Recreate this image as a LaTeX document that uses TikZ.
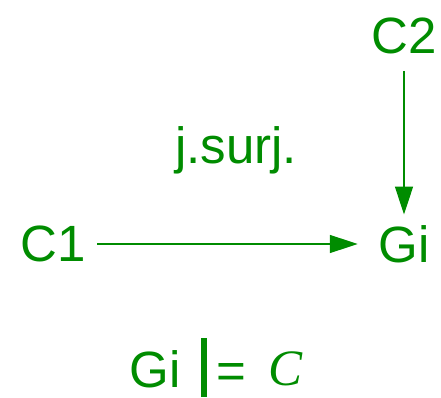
\documentclass[tikz,border=0pt]{standalone}
\usepackage{fontspec}
\setmainfont{Liberation Sans}
\newfontfamily\symfont{Liberation Serif}
\usetikzlibrary{arrows.meta}

\definecolor{sgreen}{RGB}{0,140,0}
\tikzset{every picture/.style={line width=1.5pt}}
\tikzset{lbl/.style={text=sgreen,font=\fontsize{51}{56}\selectfont,inner sep=10pt},
	arr/.style={draw=sgreen,-{Triangle[length=28pt,width=18pt]}}}

\begin{document}
\begin{tikzpicture}[x=1pt,y=1pt,yscale=-1]
	\useasboundingbox (0,0) rectangle (441,398);

	% Text Node
	\node[lbl] (c2) at (404,36) {C2};
	% Text Node
	\node[lbl] (gi) at (404,244) {Gi};
	% Text Node
	\node[lbl] (c1) at (53,244) {C1};
	% Text Node
	\node[lbl] (surj) at (236,150) {j.surj.};

	%Straight Lines
	\draw[arr,shorten <=1pt,shorten >=10pt] (c1) -- (gi);
	\draw[arr,shorten <=6pt] (c2) -- (gi);

	% Bottom statement
	\node[lbl] (gib) at (155,369) {Gi};
	\draw[sgreen,line width=6pt] (204,338) -- (204,397);
	\node[lbl] (eq) at (231,376) {=};
	\node[lbl] (cc) at (286,369) {\symfont\itshape C};
\end{tikzpicture}
\end{document}
